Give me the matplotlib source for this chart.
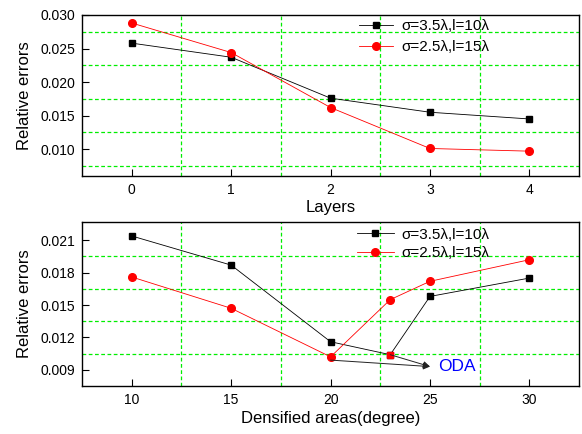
import matplotlib
matplotlib.use("Agg")
import matplotlib.pyplot as plt

plt.rcParams["font.family"] = ["Liberation Sans", "DejaVu Sans"]

# top panel: relative error vs layers
layers = [0, 1, 2, 3, 4]
layers_s35 = [0.0258, 0.0237, 0.0176, 0.0155, 0.0145]
layers_s25 = [0.0288, 0.0244, 0.0162, 0.0101, 0.0097]

# bottom panel: relative error vs densified area
areas = [10, 15, 20, 23, 25, 30]
areas_s35 = [0.0214, 0.0187, 0.0116, 0.0104, 0.0158, 0.0175]
areas_s25 = [0.0176, 0.0147, 0.0102, 0.0155, 0.0172, 0.0192]

label_s35 = "σ=3.5λ,l=10λ"
label_s25 = "σ=2.5λ,l=15λ"

# ODA annotation: arrow tip and the two arrow tails
oda_tip = (25, 0.0093)
oda_tails = [(23, 0.0104), (20, 0.0099)]

grid_kw = dict(color="#00ee00", linestyle=(0, (3, 2)), linewidth=0.9)

fig = plt.figure(figsize=(5.82, 4.34), dpi=100)
ax1 = fig.add_axes([0.141, 0.5945, 0.854, 0.371])
ax2 = fig.add_axes([0.141, 0.1106, 0.854, 0.378])

for ax in (ax1, ax2):
    ax.tick_params(which="major", direction="in", length=5, width=0.8,
                   labelsize=10, pad=5)
    ax.tick_params(which="minor", length=0)
    for sp in ax.spines.values():
        sp.set_linewidth(1.0)
    ax.set_axisbelow(True)

# top
ax1.plot(layers, layers_s35, color="black", lw=0.6, marker="s", ms=5,
         label=label_s35)
ax1.plot(layers, layers_s25, color="red", lw=0.6, marker="o", ms=5.5,
         label=label_s25)
ax1.set_xlim(-0.5, 4.5)
ax1.set_ylim(0.006, 0.030)
ax1.set_xticks(layers)
ax1.set_yticks([0.010, 0.015, 0.020, 0.025, 0.030])
ax1.set_yticklabels(["0.010", "0.015", "0.020", "0.025", "0.030"])
ax1.set_xticks([0.5, 1.5, 2.5, 3.5], minor=True)
ax1.set_yticks([0.0075, 0.0125, 0.0175, 0.0225, 0.0275], minor=True)
ax1.grid(which="minor", **grid_kw)
ax1.set_xlabel("Layers", fontsize=12, labelpad=2)
ax1.set_ylabel("Relative errors", fontsize=12, labelpad=6)
ax1.legend(loc="upper left", bbox_to_anchor=(0.557, 0.975), frameon=False,
           fontsize=11, borderpad=0, borderaxespad=0, handlelength=2.2,
           handletextpad=0.6, labelspacing=0.45)

# bottom
ax2.plot(areas, areas_s35, color="black", lw=0.6, marker="s", ms=5,
         label=label_s35)
ax2.plot(areas, areas_s25, color="red", lw=0.6, marker="o", ms=5.5,
         label=label_s25)
ax2.plot(areas[3], areas_s35[3], linestyle="none", marker="s", ms=5,
         color="red")
for tail in oda_tails:
    ax2.annotate("", xy=oda_tip, xytext=tail,
                 arrowprops=dict(arrowstyle="-|>", color="#222222", lw=0.7,
                                 mutation_scale=10, shrinkA=0, shrinkB=0))
ax2.text(oda_tip[0] + 0.4, oda_tip[1], "ODA", color="blue", fontsize=12.5,
         va="center", ha="left")
ax2.set_xlim(7.5, 32.5)
ax2.set_ylim(0.0075, 0.0227)
ax2.set_xticks([10, 15, 20, 25, 30])
ax2.set_yticks([0.009, 0.012, 0.015, 0.018, 0.021])
ax2.set_yticklabels(["0.009", "0.012", "0.015", "0.018", "0.021"])
ax2.set_xticks([12.5, 17.5, 22.5, 27.5], minor=True)
ax2.set_yticks([0.0105, 0.0135, 0.0165, 0.0195], minor=True)
ax2.grid(which="minor", **grid_kw)
ax2.set_xlabel("Densified areas(degree)", fontsize=12, labelpad=3)
ax2.set_ylabel("Relative errors", fontsize=12, labelpad=6)
ax2.legend(loc="upper left", bbox_to_anchor=(0.553, 0.965), frameon=False,
           fontsize=11, borderpad=0, borderaxespad=0, handlelength=2.4,
           handletextpad=0.5, labelspacing=0.3)

fig.savefig("out.png", dpi=100)
